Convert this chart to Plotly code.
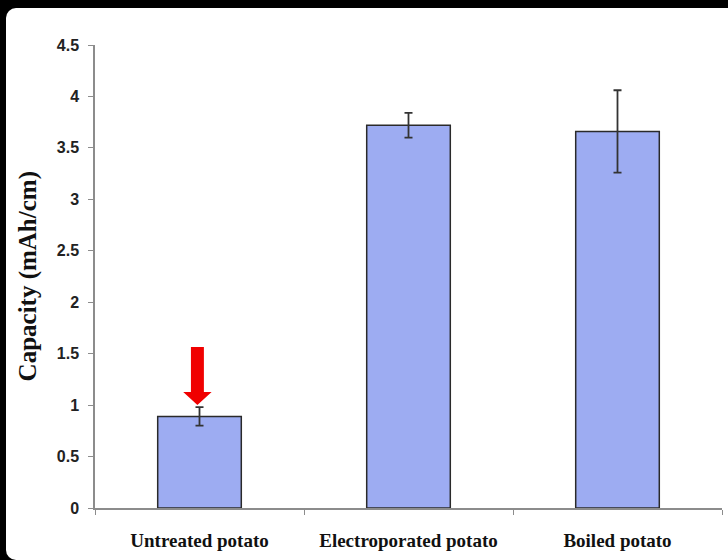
import plotly.graph_objects as go

categories = ["Untreated potato", "Electroporated potato", "Boiled potato"]
capacity = [0.89, 3.72, 3.66]
capacity_err = [0.09, 0.12, 0.40]
y_ticks = [0, 0.5, 1, 1.5, 2, 2.5, 3, 3.5, 4, 4.5]
y_ticktext = ["0", "0.5", "1", "1.5", "2", "2.5", "3", "3.5", "4", "4.5"]
y_title = "Capacity (mAh/cm)"

fig = go.Figure()
fig.add_trace(go.Bar(
    x=categories, y=capacity, width=0.4,
    marker=dict(color="#9dacf2", line=dict(color="#2a2a2a", width=1.5)),
    error_y=dict(type="data", array=capacity_err, visible=True,
                 color="#333333", thickness=1.8, width=4),
))

# red arrow pointing at the untreated bar
tip = capacity[0] + capacity_err[0] + 0.02
cx = -0.01
sw, hw = 0.031, 0.068
head_base = tip + 0.127
top = tip + 0.565
path = (f"M {cx-sw},{top} L {cx+sw},{top} L {cx+sw},{head_base} L {cx+hw},{head_base} "
        f"L {cx},{tip} L {cx-hw},{head_base} L {cx-sw},{head_base} Z")
fig.add_shape(type="path", path=path, xref="x", yref="y",
              fillcolor="#f00000", line=dict(width=0))

fig.add_annotation(text=y_title, xref="paper", yref="paper", x=-0.107, y=0.5,
                   textangle=-90, showarrow=False, xanchor="center", yanchor="middle",
                   font=dict(family="Liberation Serif, Times New Roman, serif",
                             size=25, color="#111111", weight="bold"))

fig.update_layout(
    width=722, height=552,
    margin=dict(l=89, r=6, t=37, b=52),
    paper_bgcolor="white", plot_bgcolor="white",
    showlegend=False,
    bargap=0.6,
)
fig.update_xaxes(
    type="category", showline=True, linecolor="#8c8c8c", linewidth=1.5,
    ticks="outside", tickson="boundaries", ticklen=5, tickcolor="#8c8c8c",
    showgrid=False, zeroline=False, ticklabelstandoff=14,
    tickfont=dict(family="Liberation Serif, Times New Roman, serif", size=19,
                  color="#111111", weight="bold"),
)
fig.update_yaxes(
    range=[0, 4.5], tickvals=y_ticks, ticktext=y_ticktext,
    showline=True, linecolor="#8c8c8c", linewidth=1.5,
    ticks="outside", ticklen=5, tickcolor="#8c8c8c",
    showgrid=False, zeroline=False, ticklabelstandoff=6,
    tickfont=dict(family="Liberation Sans, Arial, sans-serif", size=16,
                  color="#222222", weight="bold"),
)

fig.write_html(
    "out.html",
    config={"displayModeBar": False},
    post_script=(
        "document.body.style.margin='8px 0 0 6px';"
        "document.body.style.background='black';"
        "var d=document.querySelector('.plotly-graph-div');"
        "d.style.borderRadius='10px 0 0 10px';d.style.overflow='hidden';"
    ),
)
